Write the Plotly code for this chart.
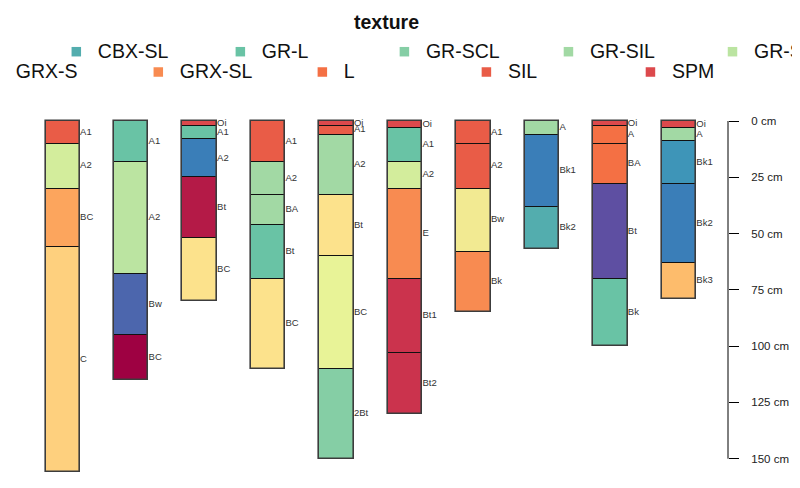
import numpy as np
import plotly.graph_objects as go

# ---------------- data ----------------
texture_levels = ["CB-L", "CB-SCL", "CB-SIL", "CBV-SIL", "CBX-SL", "GR-L", "GR-SCL",
                  "GR-SIL", "GR-SL", "GRV-L", "GRV-SIL", "GRV-SL", "GRX-CL", "GRX-L",
                  "GRX-LS", "GRX-S", "GRX-SL", "L", "SIL", "SPM", "STX-L", "VGR-L", "VGR-SIL"]

profile_ids = [1, 1, 1, 1,
               2, 2, 2, 2,
               3, 3, 3, 3, 3,
               4, 4, 4, 4, 4,
               5, 5, 5, 5, 5, 5,
               6, 6, 6, 6, 6, 6,
               7, 7, 7, 7,
               8, 8, 8,
               9, 9, 9, 9, 9,
               10, 10, 10, 10, 10]
horizon_names = ["A1", "A2", "BC", "C",
                 "A1", "A2", "Bw", "BC",
                 "Oi", "A1", "A2", "Bt", "BC",
                 "A1", "A2", "BA", "Bt", "BC",
                 "Oi", "A1", "A2", "Bt", "BC", "2Bt",
                 "Oi", "A1", "A2", "E", "Bt1", "Bt2",
                 "A1", "A2", "Bw", "Bk",
                 "A", "Bk1", "Bk2",
                 "Oi", "A", "BA", "Bt", "Bk",
                 "Oi", "A", "Bk1", "Bk2", "Bk3"]
top_depths = [0, 10, 30, 56,
              0, 18, 68, 95,
              0, 2, 8, 25, 52,
              0, 18, 33, 46, 70,
              0, 2, 6, 33, 60, 110,
              0, 3, 18, 30, 70, 103,
              0, 10, 30, 58,
              0, 6, 38,
              0, 2, 10, 28, 70,
              0, 3, 9, 28, 63]
bottom_depths = [10, 30, 56, 156,
                 18, 68, 95, 115,
                 2, 8, 25, 52, 80,
                 18, 33, 46, 70, 110,
                 2, 6, 33, 60, 110, 150,
                 3, 18, 30, 70, 103, 130,
                 10, 30, 58, 85,
                 6, 38, 57,
                 2, 10, 28, 70, 100,
                 3, 9, 28, 63, 79]
textures = ["SIL", "GRV-L", "GRX-S", "GRX-L",
            "GR-L", "GR-SL", "CB-SCL", "VGR-SIL",
            "SPM", "GR-L", "CB-SIL", "VGR-L", "GRX-CL",
            "SIL", "GR-SIL", "GR-SIL", "GR-L", "GRX-CL",
            "SPM", "SIL", "GR-SIL", "GRX-CL", "GRV-SIL", "GR-SCL",
            "SPM", "GR-L", "GRV-L", "GRX-SL", "STX-L", "STX-L",
            "SIL", "SIL", "GRV-SL", "GRX-SL",
            "GR-SIL", "CB-SIL", "CBX-SL",
            "SPM", "L", "L", "CB-L", "GR-L",
            "SPM", "GR-SIL", "CBV-SIL", "CB-SIL", "GRX-LS"]
depth_ticks = [0, 25, 50, 75, 100, 125, 150]
depth_tick_labels = ["%d cm" % v for v in depth_ticks]
legend_title = "texture"

# ---------------- colours: linear ramp (like colorRampPalette) ----------------
ramp_anchors = ["#5E4FA2", "#3288BD", "#66C2A5", "#ABDDA4", "#E6F598",
                "#FEE08B", "#FDAE61", "#F46D43", "#D53E4F", "#9E0142"]
anch = np.array([[int(h[i:i + 2], 16) for i in (1, 3, 5)] for h in ramp_anchors], float)
tpos = np.linspace(0, len(ramp_anchors) - 1, len(texture_levels))
ramp = []
for t in tpos:
    i0 = int(np.floor(t)); i1 = min(i0 + 1, len(ramp_anchors) - 1); f = t - i0
    c = np.round(anch[i0] * (1 - f) + anch[i1] * f).astype(int)
    ramp.append("#%02X%02X%02X" % tuple(c))
tex_color = dict(zip(texture_levels, ramp))

# ---------------- geometry helpers (window pixel -> data) ----------------
W, H = 800, 488
OFF = 8.0                          # page offset of the figure div
x0_px, dx_px = 62.65, 68.47        # window px of profile 1 centre, spacing
y0_px, dy_px = 121.0, 2.2513       # window px of 0 cm, px per cm
x0d, y0d = x0_px - OFF, y0_px - OFF
x_range = [1 - x0d / dx_px, 1 + (W - x0d) / dx_px]
y_range = [(H - y0d) / dy_px, -y0d / dy_px]

def px2x(p):
    return 1 + (p - OFF - x0d) / dx_px

def px2y(p):
    return (p - OFF - y0d) / dy_px

FONT = "Liberation Sans, Arial, Helvetica, sans-serif"
bar_w = 0.5

fig = go.Figure()

thick = [b - t for t, b in zip(top_depths, bottom_depths)]
fig.add_trace(go.Bar(
    x=profile_ids, y=thick, base=top_depths, width=bar_w,
    marker=dict(color=[tex_color[t] for t in textures],
                line=dict(color="#111111", width=1)),
    hoverinfo="skip", showlegend=False))

# profile outlines
pids = sorted(set(profile_ids))
totals = [max(b for p, b in zip(profile_ids, bottom_depths) if p == q) for q in pids]
fig.add_trace(go.Bar(
    x=pids, y=totals, base=[0] * len(pids), width=bar_w,
    marker=dict(color="rgba(0,0,0,0)", line=dict(color="#3c3c3c", width=1.6)),
    hoverinfo="skip", showlegend=False))

# horizon labels
fig.add_trace(go.Scatter(
    x=[p + bar_w / 2 + 0.005 for p in profile_ids],
    y=[(t + b) / 2 for t, b in zip(top_depths, bottom_depths)],
    text=horizon_names, mode="text", textposition="middle right",
    textfont=dict(family=FONT, size=9.5, color="#333333"),
    hoverinfo="skip", showlegend=False, cliponaxis=False))

# legend (two centred rows, as in the original)
n_row1 = (len(texture_levels) + 1) // 2
row_items = [texture_levels[:n_row1], texture_levels[n_row1:]]
step = 164.05
row_first_marker = [76.3 - 4 * step, 158.3 - 4 * step]
row_y = [51.7, 72.0]
for r, items in enumerate(row_items):
    mx = [row_first_marker[r] + k * step for k in range(len(items))]
    fig.add_trace(go.Scatter(
        x=[px2x(m) for m in mx], y=[px2y(row_y[r])] * len(items), mode="markers",
        marker=dict(symbol="square", size=9.5, color=[tex_color[t] for t in items],
                    line=dict(width=0)),
        hoverinfo="skip", showlegend=False, cliponaxis=True))
    fig.add_trace(go.Scatter(
        x=[px2x(m + 21.5) for m in mx], y=[px2y(row_y[r] + 1.2)] * len(items),
        text=items, mode="text", textposition="middle right",
        textfont=dict(family=FONT, size=19.5, color="#111111"),
        hoverinfo="skip", showlegend=False, cliponaxis=True))

# depth scale line
axis_px = 728.0
fig.add_shape(type="line", xref="x", yref="y",
              x0=px2x(axis_px), x1=px2x(axis_px), y0=depth_ticks[0], y1=depth_ticks[-1],
              line=dict(color="black", width=1))

fig.add_annotation(text="<b>%s</b>" % legend_title, xref="paper", yref="paper",
                   x=(386 - OFF) / W, y=1 - (22 - OFF) / H, yanchor="middle",
                   showarrow=False,
                   font=dict(family=FONT, size=19.5, color="#111111"))

fig.update_layout(
    width=W, height=H, margin=dict(l=0, r=0, t=0, b=0, autoexpand=False),
    paper_bgcolor="white", plot_bgcolor="white",
    barmode="overlay", bargap=0, showlegend=False,
    xaxis=dict(range=x_range, visible=False, fixedrange=True),
    yaxis=dict(range=y_range, anchor="free", position=(axis_px - OFF) / W, side="right",
               showline=False, showgrid=False, zeroline=False,
               ticks="outside", ticklen=10, tickwidth=1, tickcolor="black",
               tickmode="array", tickvals=depth_ticks, ticktext=depth_tick_labels,
               ticklabelstandoff=10,
               tickfont=dict(family=FONT, size=11.5, color="#222222"),
               fixedrange=True),
)

fig.write_html("out.html")
